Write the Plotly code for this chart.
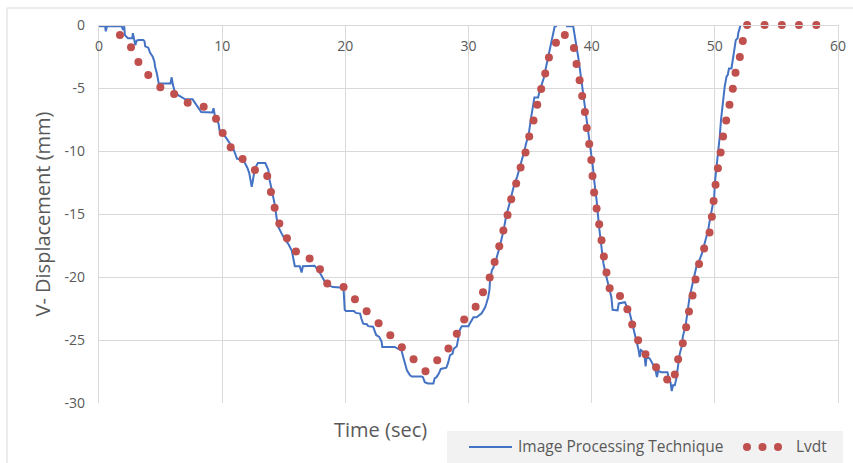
import plotly.graph_objects as go

# ---------------- data ----------------
ipt_time = [0, 0.5, 0.55, 0.65, 1.85, 1.95, 2.05, 2.1, 2.35, 2.7, 2.75, 2.85, 2.95, 3.05, 3.2, 3.6, 3.7,
            3.75, 4.0, 4.15, 4.35, 4.5, 4.55, 4.7, 4.8, 4.85, 5.8, 5.9, 6.0, 6.15, 6.4, 6.7, 7.0, 7.6,
            7.8, 8.05, 8.3, 9.2, 9.3, 9.4, 9.7, 9.8, 10.05, 10.35, 10.6, 10.9, 11.05, 11.2, 11.6, 11.85,
            12.05, 12.2, 12.3, 12.4, 12.5, 12.65, 12.9, 13.5, 13.75, 13.85, 14.0, 14.15, 14.3, 14.4,
            14.55, 14.8, 15.05, 15.35, 15.65, 15.8, 15.9, 16.3, 16.45, 16.55, 17.5, 17.9, 18.15, 18.35,
            18.6, 19.0, 19.85, 19.95, 20.05, 20.7, 20.85, 21.2, 21.3, 21.45, 21.75, 21.85, 22.25, 22.4,
            22.5, 22.75, 22.95, 23.0, 24.0, 24.3, 24.55, 24.7, 24.85, 25.0, 25.25, 25.4, 26.2, 26.3,
            26.45, 26.7, 27.15, 27.25, 27.4, 27.6, 27.75, 28.2, 28.35, 28.5, 28.7, 28.8, 29.05, 29.15,
            29.3, 29.45, 30.0, 30.1, 30.25, 30.4, 30.65, 31.05, 31.2, 31.35, 31.45, 31.6, 31.7, 31.75,
            31.9, 32.0, 32.2, 32.4, 32.55, 32.7, 32.85, 33.05, 33.25, 33.4, 33.6, 33.75, 33.95, 34.15,
            34.4, 34.55, 34.65, 34.9, 35.05, 35.2, 35.3, 35.35, 35.65, 35.8, 36.1, 36.35, 36.55, 36.8,
            37.0, 37.1, 37.3, 37.8, 38.0, 38.5, 38.6, 38.75, 38.9, 39.05, 39.2, 39.3, 39.5, 39.7, 39.85,
            39.95, 40.1, 40.2, 40.4, 40.6, 40.8, 40.95, 41.2, 41.35, 41.5, 41.6, 41.7, 42.1, 42.2, 42.7,
            42.85, 43.0, 43.1, 43.25, 43.45, 43.65, 43.8, 43.9, 44.0, 44.2, 44.3, 44.38, 44.45, 44.7,
            44.95, 45.15, 45.3, 45.4, 45.65, 46.15, 46.3, 46.4, 46.5, 46.6, 46.75, 46.9, 47.0, 47.15,
            47.3, 47.4, 47.65, 47.8, 47.95, 48.2, 48.4, 48.5, 48.75, 48.95, 49.1, 49.3, 49.45, 49.65,
            49.8, 49.95, 50.0, 50.15, 50.3, 50.35, 50.4, 50.5, 50.65, 50.8, 50.95, 51.05, 51.15, 51.35,
            51.5, 51.6, 51.7, 51.85, 51.9, 52.05, 52.2, 52.5]
ipt_disp = [-0.1, -0.1, -0.5, -0.1, -0.1, -0.4, -0.1, -0.8, -1.05, -1.05, -0.65, -1.2, -1.6, -1.25, -1.2, -1.2, -1.3,
            -1.7, -1.8, -2.2, -2.5, -2.9, -3.3, -3.85, -4.5, -4.65, -4.65, -4.15, -4.75, -5.3, -5.55,
            -5.75, -5.9, -5.9, -6.2, -6.5, -6.9, -6.95, -6.6, -7.15, -7.8, -8.45, -8.6, -9.0, -9.4,
            -9.8, -10.2, -10.6, -10.7, -10.95, -11.35, -11.75, -12.3, -12.85, -12.3, -11.4, -10.95,
            -10.95, -11.5, -12.3, -12.95, -13.6, -14.4, -15.2, -16.0, -16.5, -16.95, -17.35, -17.9,
            -18.65, -19.15, -19.15, -19.65, -19.15, -19.1, -19.6, -20.1, -20.4, -20.65, -20.8, -20.85,
            -22.6, -22.7, -22.7, -22.85, -22.9, -23.3, -23.7, -23.75, -23.9, -23.95, -24.35, -24.6,
            -24.75, -25.15, -25.55, -25.55, -25.7, -25.8, -26.35, -26.85, -27.4, -27.8, -27.9, -27.9,
            -27.95, -28.35, -28.45, -28.45, -28.05, -27.95, -27.65, -27.3, -27.2, -26.8, -26.2, -26.1,
            -25.7, -25.5, -24.9, -24.2, -23.9, -23.9, -23.7, -23.45, -23.2, -23.2, -22.9, -22.65, -22.4,
            -22.1, -21.6, -21.05, -20.25, -19.45, -19.3, -18.75, -18.1, -17.55, -16.9, -16.3, -15.2,
            -14.55, -13.9, -13.1, -12.55, -12.05, -11.4, -10.55, -9.95, -9.5, -8.6, -7.55, -6.75,
            -5.95, -5.75, -5.75, -5.15, -4.25, -3.05, -2.25, -0.95, -0.1, -0.1, 0.8, 0.8, -0.1, -0.1, -0.65, -1.45,
            -2.5, -3.55, -4.6, -5.7, -6.9, -8.1, -9.15, -10.2, -11.25, -12.3, -13.9, -16.0, -17.6,
            -18.9, -20.0, -20.65, -21.2, -21.6, -22.6, -22.65, -22.1, -22.0, -22.35, -22.6, -22.9,
            -23.5, -24.3, -25.25, -25.75, -26.35, -25.8, -25.95, -26.35, -27.1, -26.4, -26.45, -26.85,
            -27.25, -27.95, -27.45, -27.55, -27.55, -28.2, -28.35, -29.05, -28.6, -28.6, -27.95,
            -27.15, -26.1, -25.55, -24.75, -23.7, -22.65, -21.6, -20.5, -19.7, -19.2, -18.65, -18.15,
            -17.6, -16.8, -16.3, -15.2, -14.45, -13.65, -12.55, -11.25, -9.95, -9.2, -8.85, -7.55,
            -6.2, -4.9, -4.1, -3.95, -3.45, -3.45, -2.5, -1.85, -1.2, -1.05, -0.65, -0.15, 0.5, 1.0]

lvdt_time = [1.7, 2.6, 3.2, 4.0, 4.98, 6.1, 7.2, 8.5, 9.5, 10.04, 10.69, 11.66, 12.66, 13.66, 13.96,
             14.26, 14.64, 15.26, 15.99, 17.1, 17.94, 18.53, 19.86, 20.78, 21.73, 22.7, 23.65, 24.59,
             25.54, 26.51, 27.46, 28.37, 29.05, 29.65, 30.58, 31.18, 31.72, 32.12, 32.5, 32.83, 33.17,
             33.47, 33.87, 34.23, 34.63, 34.93, 35.28, 35.58, 35.9, 36.23, 36.53, 37.1, 37.82, 38.56,
             38.77, 39.02, 39.23, 39.45, 39.6, 39.8, 39.97, 40.07, 40.2, 40.4, 40.61, 40.8, 40.99,
             41.2, 41.46, 42.3, 42.9, 43.29, 43.77, 44.37, 45.23, 46.13, 46.75, 47.02, 47.4, 47.67,
             47.9, 48.19, 48.43, 48.72, 49.13, 49.57, 49.76, 49.9, 50.06, 50.25, 50.47, 50.67, 50.92,
             51.19, 51.46, 51.68, 52.03, 52.27, 52.62, 54.04, 55.44, 56.83, 58.24]
lvdt_disp = [-0.8, -1.77, -2.94, -3.97, -4.95, -5.48, -6.17, -6.49, -7.44, -8.58, -9.71, -10.63, -11.5,
             -11.99, -13.26, -14.5, -15.75, -16.92, -17.97, -18.53, -19.38, -20.52, -20.79, -21.76,
             -22.72, -23.67, -24.62, -25.58, -26.53, -27.48, -26.61, -25.67, -24.5, -23.37, -22.37,
             -21.22, -20.03, -18.8, -17.55, -16.31, -15.07, -13.82, -12.57, -11.3, -10.11, -8.84,
             -7.57, -6.33, -5.08, -3.84, -2.57, -1.41, -0.79, -1.83, -3.1, -4.39, -5.64, -6.91, -8.18,
             -9.45, -10.72, -11.99, -13.29, -14.56, -15.81, -17.08, -18.37, -19.64, -20.89, -21.5,
             -22.55, -23.77, -25.01, -26.13, -27.16, -28.14, -27.74, -26.53, -25.26, -23.99, -22.74,
             -21.47, -20.2, -18.96, -17.74, -16.47, -15.22, -13.96, -12.68, -11.37, -10.12, -8.84,
             -7.57, -6.33, -5.06, -3.79, -2.54, -1.27, 0, 0, 0, 0, 0]

x_ticks = [0, 10, 20, 30, 40, 50, 60]
y_ticks = [0, -5, -10, -15, -20, -25, -30]

series_names = ["Image Processing Technique", "Lvdt"]
x_title = "Time (sec)"
y_title = "V- Displacement (mm)"

# ---------------- layout helpers ----------------
W, H = 853, 463
ML, MR, MT, MB = 99, 15, 25, 60
PW, PH = W - ML - MR, H - MT - MB


def fx(p):
    return (p - ML) / PW


def fy(p):
    return (H - MB - p) / PH


FONT = "Open Sans"
GREY_TXT = "#595959"
GRID = "#D9D9D9"
BLUE = "#4472C4"
RED = "#C0504D"

fig = go.Figure()
fig.add_trace(go.Scatter(x=ipt_time, y=ipt_disp, mode="lines", name=series_names[0],
                         line=dict(color=BLUE, width=2), showlegend=False))
fig.add_trace(go.Scatter(x=lvdt_time, y=lvdt_disp, mode="markers", name=series_names[1],
                         marker=dict(color=RED, size=8), cliponaxis=False, showlegend=False))

fig.update_layout(
    width=W, height=H,
    margin=dict(l=ML, r=MR, t=MT, b=MB, autoexpand=False),
    paper_bgcolor="white", plot_bgcolor="white",
    font=dict(family=FONT, color=GREY_TXT),
    showlegend=False,
    xaxis=dict(range=[0, 60], tickvals=x_ticks, ticktext=[str(v) for v in x_ticks],
               anchor="free", position=1, side="bottom",
               showgrid=True, gridcolor=GRID, gridwidth=1.3,
               showline=True, linecolor=GRID, linewidth=1.3, mirror=True,
               zeroline=False, ticks="", ticklabelstandoff=8,
               tickfont=dict(size=14, color=GREY_TXT, family=FONT), automargin=False),
    yaxis=dict(range=[-30, 0], tickvals=y_ticks, ticktext=[str(v) for v in y_ticks],
               showgrid=True, gridcolor=GRID, gridwidth=1.3,
               showline=True, linecolor=GRID, linewidth=1.3, mirror=True,
               zeroline=False, ticks="", ticklabelstandoff=10,
               tickfont=dict(size=14, color=GREY_TXT, family=FONT), automargin=False,
               title=dict(text=y_title, font=dict(size=20, color=GREY_TXT, family=FONT), standoff=8)),
)

shapes = []
# outer chart border
shapes.append(dict(type="rect", xref="paper", yref="paper", x0=fx(7), x1=fx(900), y0=fy(8), y1=fy(520),
                   line=dict(color=GRID, width=1), fillcolor="rgba(0,0,0,0)", layer="below"))
# legend background
shapes.append(dict(type="rect", xref="paper", yref="paper", x0=fx(447), x1=fx(843), y0=fy(431), y1=fy(470),
                   line=dict(width=0), fillcolor="#F2F2F2", layer="below"))
# legend line sample
shapes.append(dict(type="line", xref="paper", yref="paper", x0=fx(469), x1=fx(512), y0=fy(447), y1=fy(447),
                   line=dict(color=BLUE, width=2)))
# legend dots
for cx in (747, 762.5, 778):
    shapes.append(dict(type="circle", xref="paper", yref="paper", x0=fx(cx - 4), x1=fx(cx + 4),
                       y0=fy(447 - 4), y1=fy(447 + 4), line=dict(width=0), fillcolor=RED))
fig.update_layout(shapes=shapes)

annotations = [
    dict(text=x_title, xref="paper", yref="paper", x=fx(380), y=fy(429), showarrow=False,
         xanchor="center", yanchor="middle", font=dict(size=20, color=GREY_TXT, family=FONT)),
    dict(text=series_names[0], xref="paper", yref="paper", x=fx(516), y=fy(446), showarrow=False,
         xanchor="left", yanchor="middle", font=dict(size=15.5, color=GREY_TXT, family=FONT)),
    dict(text=series_names[1], xref="paper", yref="paper", x=fx(794), y=fy(446), showarrow=False,
         xanchor="left", yanchor="middle", font=dict(size=15.5, color=GREY_TXT, family=FONT)),
]
fig.update_layout(annotations=annotations)

fig.write_html("out.html")
